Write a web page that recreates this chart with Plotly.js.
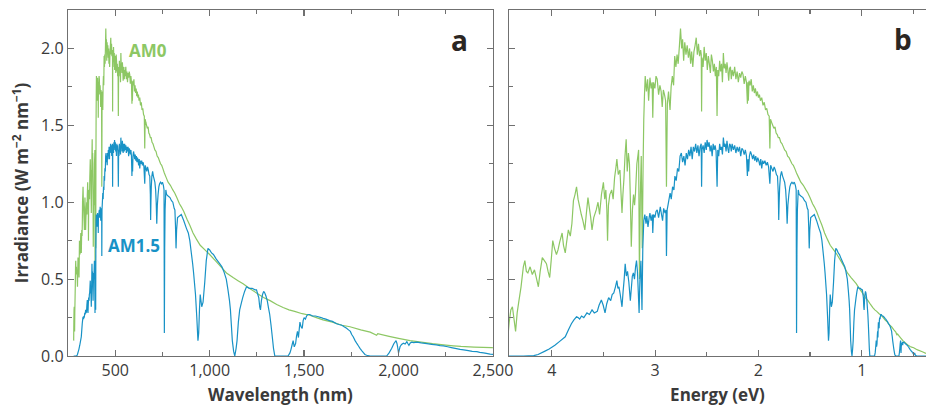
<!DOCTYPE html>
<html><head><meta charset="utf-8">
<script src="https://cdn.plot.ly/plotly-3.0.1.min.js"></script>
<style>html,body{margin:0;padding:0;background:#fff}</style>
</head><body>
<div id="chart" style="width:926px;height:410px"></div>
<script>
// AM0 (extraterrestrial) spectrum (nm, W m^-2 nm^-1)
const am0Wavelength = [
280,281,282,283,284,285,286,287,288.5,290,
291,292,293,294.5,296,297.5,299,300.2,301.5,303,
304.5,306,307.2,308.4,309.5,310.7,312,313.5,314.7,316,
317.9,319,320.4,321.5,322.9,324.5,325.8,327.1,328.4,329.7,
331,332.4,333.8,335.2,336.9,338.3,339.7,341,342.2,343.4,
345,347.3,349,350.5,352.3,354.2,355.5,356.6,357.6,358.3,
359.2,360.6,362.5,364,365.5,366.8,367.9,369.4,371.2,372.4,
373.4,374.4,375.5,376.7,378.0,379.2,380.5,381.7,382.6,383.8,
385.1,386.4,387.6,388.7,390.3,391.5,392.4,393.4,394.5,395.6,
396.8,397.9,398.7,399.6,400.5,402,403.5,404.8,406.5,408,
409.4,410.2,411.2,413,414.5,416.1,418,419.8,421.5,423,
424.6,426.2,427.8,429.0,430.3,432,434.2,435.8,437.6,439.5,
441.2,443,444.8,446.5,448.5,450.2,452,453.5,455.2,457,
459,461,463,465,466.8,468.5,470.5,472.5,474.5,476.5,
478.5,480.5,482.5,484.5,485.6,486.2,487,489,491,493,
495,497,499,501,503,505,507,509,511,513,
515,516.5,518,520,522,524,526,528,530,532,
534,536,538,540,542,544,546,548,550,553,
556,559,562,565,568,571,574,577,580,583,
586,588.6,589.8,591,593,596,599,602,605,608,
611,614,617,620,623,626,630,634,638,642,
646,650,654,656.3,658.5,662,666,670,674,678,
682,686,690,695,700,705,710,716,722,728,
734,740,746,752,760,770,780,792,805,815,
826,840,850,863,880,895,912,930,950,975,
1000,1030,1060,1089,1124,1150,1177,1210,1248,1285,
1320,1355,1389,1420,1450,1490,1530,1565,1600,1650,
1700,1743,1800,1850,1884,1890,1950,2000,2061,2120,
2180,2238,2290,2330,2400,2494,2600,2700,3000,3280];
const am0Irradiance = [
0.10,0.22,0.30,0.32,0.24,0.16,0.28,0.35,0.45,0.58,
0.62,0.55,0.54,0.58,0.53,0.56,0.50,0.45,0.55,0.64,
0.62,0.60,0.55,0.51,0.62,0.75,0.70,0.66,0.69,0.74,
0.80,0.72,0.67,0.74,0.82,0.78,0.86,1.01,1.05,1.10,
1.02,0.97,0.92,0.88,0.82,0.93,1.03,0.96,0.90,0.82,
0.90,0.95,1.00,0.92,1.05,1.13,1.02,1.08,0.95,0.75,
0.98,1.05,1.08,1.02,1.16,1.22,1.28,1.18,1.21,1.05,
0.93,1.05,1.15,1.30,1.41,1.20,1.32,1.25,1.05,0.71,
0.95,1.05,0.98,1.06,1.25,1.30,1.34,0.50,1.05,1.30,
0.70,1.25,1.54,1.70,1.82,1.72,1.80,1.66,1.81,1.74,
1.78,1.55,1.78,1.74,1.82,1.80,1.70,1.76,1.72,1.62,
1.73,1.70,1.66,1.10,1.64,1.72,1.60,1.75,1.82,1.76,
1.95,1.88,1.96,1.90,2.02,2.13,2.00,2.06,1.92,2.04,
1.96,2.02,1.94,2.00,1.90,1.98,1.88,1.98,2.02,2.07,
1.96,2.03,1.95,1.99,1.96,1.59,1.94,1.88,2.01,1.92,
1.97,1.86,1.95,1.90,1.84,1.96,1.92,1.85,1.90,1.82,
1.88,1.56,1.86,1.82,1.92,1.85,1.90,1.78,1.97,1.87,
1.90,1.84,1.91,1.86,1.79,1.87,1.88,1.80,1.86,1.82,
1.88,1.80,1.85,1.78,1.84,1.81,1.85,1.83,1.77,1.82,
1.78,1.64,1.78,1.66,1.79,1.76,1.80,1.72,1.76,1.71,
1.74,1.69,1.72,1.68,1.70,1.66,1.68,1.63,1.65,1.60,
1.61,1.57,1.56,1.35,1.54,1.52,1.50,1.48,1.49,1.45,
1.44,1.42,1.42,1.39,1.38,1.36,1.34,1.33,1.30,1.29,
1.27,1.25,1.24,1.22,1.19,1.16,1.13,1.11,1.08,1.06,
1.03,0.99,0.97,0.94,0.89,0.85,0.80,0.76,0.72,0.69,
0.66,0.62,0.58,0.54,0.51,0.49,0.47,0.44,0.41,0.38,
0.36,0.335,0.315,0.30,0.29,0.275,0.265,0.25,0.235,0.22,
0.20,0.19,0.17,0.155,0.135,0.145,0.128,0.115,0.10,0.09,
0.08,0.072,0.066,0.062,0.058,0.054,0.046,0.040,0.028,0.016];

// AM1.5 (terrestrial) spectrum (nm, W m^-2 nm^-1)
const am15Wavelength = [
280,290,297,300,304.6,308,312.3,316,320.4,323,
325.4,327.5,329.7,331,332.4,334,336,338.8,341,343.4,
345.5,348.3,350,352.2,354,355.8,357.5,359.4,361.5,363,
364.7,366.4,367.9,369,370.1,371.5,373.4,374.6,375.8,376.9,
378.2,379.5,381,382.7,384,385,386.2,387.5,388.8,389.9,
391,392,393.0,394,395.2,396.5,397.5,398.7,400,401.5,
402.5,404,405.5,406.5,408,409.5,410.2,411.2,413,414.5,
416.1,418,420.3,422,423.5,425,427,428.3,429.0,430,
432,434.3,436,438,440,441.5,443.5,445.5,447.5,449.5,
451.5,453.5,455.5,457.5,459.5,461.5,463.5,465.5,467.5,469.5,
471.4,473.5,475.5,477.5,479.5,481.5,483.5,485.5,486.2,487,
489,491,493,495,496.5,498.5,500.5,502.5,504.5,506.5,
508.5,510.5,512.5,514.5,516.6,518,520,522,524,526,
528,530,532,534,536,538,540,542,544,546,
548,550,553,556,559,562,565,568,571,574,
577,580,583,586,588.5,590,592,594,597,600,
603,606,609,612,615,618,621,624,627,630,
633,636,640,644,648,652,656.3,659,663,667,
671,675,679,683,686,687.5,689,691,694,698,
702,706,710,714,717,720,723,727,731,735,
740,745,750,755,758.5,760.2,762,764,768,772,
780,790,798,805,812,816,819,822,825,830,
840,850,863,877,887,895,903,910,915,925,
932,938,942,946,950,958,965,974,982,991,
1000,1010,1020,1035,1053,1065,1075,1088,1097,1105,
1110,1115,1120,1127,1133,1140,1145,1152,1159,1167,
1175,1185,1195,1210,1225,1240,1248,1255,1260,1265,
1269,1274,1280,1286,1292,1298,1305,1312,1318,1325,
1332,1338,1345,1415,1425,1430,1436,1442,1448,1455,
1460,1465,1470,1478,1484,1490,1495,1500,1507,1513,
1520,1530,1545,1560,1575,1590,1601,1615,1635,1650,
1672,1685,1700,1712,1725,1735,1745,1752,1760,1770,
1780,1788,1796,1805,1815,1822,1831,1850,1937,1950,
1964,1975,1987,1992,1995,2000,2004,2008,2016,2026,
2035,2044,2050,2055,2062,2070,2080,2097,2120,2150,
2175,2200,2220,2238,2260,2280,2300,2326,2345,2370,
2390,2415,2430,2450,2465,2485,2500,2540,2580,2650,
3000,3280];
const am15Irradiance = [
0,0,0.002,0.01,0.03,0.045,0.07,0.095,0.125,0.17,
0.21,0.235,0.255,0.25,0.24,0.26,0.25,0.28,0.27,0.30,
0.28,0.29,0.33,0.364,0.33,0.28,0.34,0.38,0.36,0.40,
0.41,0.45,0.49,0.44,0.45,0.40,0.32,0.42,0.50,0.60,
0.52,0.55,0.48,0.36,0.45,0.52,0.54,0.50,0.58,0.62,
0.55,0.42,0.28,0.50,0.62,0.30,0.70,0.88,0.92,0.86,
0.91,0.84,0.90,0.93,0.88,0.92,0.80,0.92,0.90,0.94,
0.95,0.90,0.97,0.92,0.88,0.96,0.93,0.95,0.65,0.95,
1.00,1.06,1.02,1.10,1.08,1.17,1.14,1.22,1.20,1.30,
1.32,1.26,1.30,1.24,1.32,1.28,1.34,1.30,1.36,1.28,
1.36,1.33,1.38,1.32,1.37,1.30,1.36,1.38,1.10,1.34,
1.37,1.32,1.39,1.34,1.405,1.36,1.39,1.33,1.37,1.30,
1.38,1.34,1.37,1.33,1.10,1.34,1.30,1.38,1.34,1.36,
1.31,1.42,1.36,1.38,1.33,1.40,1.35,1.32,1.38,1.37,
1.33,1.38,1.34,1.37,1.32,1.36,1.33,1.36,1.30,1.35,
1.34,1.31,1.34,1.30,1.17,1.28,1.20,1.30,1.33,1.31,
1.28,1.31,1.27,1.30,1.26,1.29,1.27,1.24,1.28,1.22,
1.27,1.25,1.27,1.24,1.26,1.23,1.12,1.24,1.22,1.20,
1.23,1.21,1.18,1.17,1.05,0.885,1.00,1.10,1.17,1.20,
1.17,1.15,1.13,1.08,1.00,0.86,0.98,1.05,1.10,1.12,
1.13,1.12,1.13,1.11,1.08,0.15,0.70,0.95,1.08,1.05,
1.04,1.03,1.01,1.00,0.96,0.95,0.85,0.70,0.82,0.90,
0.91,0.92,0.88,0.83,0.80,0.75,0.67,0.60,0.54,0.40,
0.25,0.10,0.15,0.30,0.40,0.32,0.35,0.48,0.62,0.70,
0.69,0.67,0.66,0.63,0.60,0.58,0.55,0.50,0.43,0.36,
0.30,0.20,0.10,0.03,0,0.05,0.10,0.22,0.30,0.34,
0.38,0.42,0.45,0.44,0.44,0.43,0.43,0.40,0.38,0.32,
0.30,0.36,0.40,0.42,0.41,0.39,0.36,0.31,0.27,0.20,
0.12,0.05,0,0,0.02,0.04,0.07,0.10,0.06,0.08,
0.13,0.16,0.12,0.22,0.19,0.18,0.23,0.25,0.24,0.26,
0.27,0.27,0.26,0.26,0.255,0.25,0.245,0.24,0.23,0.225,
0.21,0.205,0.20,0.19,0.18,0.17,0.16,0.14,0.125,0.10,
0.08,0.065,0.05,0.035,0.02,0.01,0.005,0,0,0.02,
0.05,0.08,0.10,0.08,0.06,0.02,0.04,0.06,0.075,0.083,
0.078,0.093,0.08,0.07,0.085,0.09,0.087,0.09,0.085,0.08,
0.076,0.072,0.068,0.066,0.06,0.055,0.05,0.043,0.04,0.035,
0.03,0.028,0.024,0.02,0.017,0.012,0.01,0.02,0.005,0,
0,0];

// Tick values
const wavelengthTicks = [500, 1000, 1500, 2000, 2500];
const energyTicks = [4, 3, 2, 1];
const irradianceTicks = [0, 0.5, 1.0, 1.5, 2.0];

const HC = 1239.84; // eV·nm, converts wavelength to photon energy
const am0Energy = am0Wavelength.map(w => HC / w);
const am15Energy = am15Wavelength.map(w => HC / w);

const GREEN = '#8dc764';
const BLUE = '#1892c6';
const AXIS = '#707070';
const TXT = '#3a3a3a';
const FONT = 'Open Sans, Liberation Sans, sans-serif';

const lineA = {width: 1.2, simplify: false};
const traces = [
  {x: am0Wavelength, y: am0Irradiance, xaxis: 'x', yaxis: 'y', mode: 'lines', name: 'AM0', line: {...lineA, color: GREEN}},
  {x: am15Wavelength, y: am15Irradiance, xaxis: 'x', yaxis: 'y', mode: 'lines', name: 'AM1.5', line: {...lineA, color: BLUE}},
  {x: am0Energy, y: am0Irradiance, xaxis: 'x2', yaxis: 'y2', mode: 'lines', name: 'AM0', line: {...lineA, color: GREEN}},
  {x: am15Energy, y: am15Irradiance, xaxis: 'x2', yaxis: 'y2', mode: 'lines', name: 'AM1.5', line: {...lineA, color: BLUE}}
];

const base = {
  showline: true, linecolor: AXIS, linewidth: 1.2, ticks: 'inside', ticklen: 6, tickwidth: 1.2, tickcolor: AXIS,
  showgrid: false, zeroline: false, fixedrange: true,
  tickfont: {family: FONT, size: 16, color: TXT}
};
const minorBase = {ticks: 'inside', ticklen: 4, tickwidth: 1.2, tickcolor: AXIS, showgrid: false};
const titleFont = {family: FONT, size: 17, color: TXT};

const layout = {
  width: 926, height: 410,
  margin: {l: 68, r: 0, t: 10, b: 54},
  showlegend: false,
  paper_bgcolor: '#fff', plot_bgcolor: '#fff',
  xaxis: {...base, domain: [0, 0.4953], range: [250, 2500], tickvals: wavelengthTicks, ticktext: wavelengthTicks.map(v => v.toLocaleString('en-US')),
    minor: {...minorBase, dtick: 250, tick0: 0}, mirror: 'ticks', anchor: 'y',
    title: {text: '<b>Wavelength (nm)</b>', font: titleFont, standoff: 8}},
  yaxis: {...base, domain: [0, 1], range: [0, 2.25], tickvals: irradianceTicks, ticktext: irradianceTicks.map(v => v.toFixed(1)),
    minor: {...minorBase, dtick: 0.25, tick0: 0}, mirror: 'ticks', anchor: 'x',
    title: {text: '<b>Irradiance (W m<sup>−2</sup> nm<sup>−1</sup>)</b>', font: titleFont, standoff: 8}},
  xaxis2: {...base, domain: [0.514, 1], range: [4.414, 0.378], tickvals: energyTicks, ticktext: energyTicks.map(String),
    minor: {...minorBase, dtick: 0.5, tick0: 0}, mirror: 'ticks', anchor: 'y2',
    title: {text: '<b>Energy (eV)</b>', font: titleFont, standoff: 8}},
  yaxis2: {...base, domain: [0, 1], range: [0, 2.25], showticklabels: false, tickvals: irradianceTicks,
    minor: {...minorBase, dtick: 0.25, tick0: 0}, mirror: false, anchor: 'x2'},
  annotations: [
    {xref: 'x domain', yref: 'y domain', x: 0.921, y: 0.913, xanchor: 'center', yanchor: 'middle', text: '<b>a</b>', showarrow: false, font: {family: FONT, size: 28, color: '#2b2623'}},
    {xref: 'x2 domain', yref: 'y2 domain', x: 0.946, y: 0.916, xanchor: 'center', yanchor: 'middle', text: '<b>b</b>', showarrow: false, font: {family: FONT, size: 28, color: '#2b2623'}},
    {xref: 'x', yref: 'y', x: 674, y: 1.985, text: '<b>AM0</b>', showarrow: false, font: {family: FONT, size: 17, color: GREEN}},
    {xref: 'x', yref: 'y', x: 600, y: 0.72, text: '<b>AM1.5</b>', showarrow: false, font: {family: FONT, size: 17, color: BLUE}}
  ]
};

Plotly.newPlot('chart', traces, layout, {displayModeBar: false, staticPlot: true});
</script>
</body></html>
